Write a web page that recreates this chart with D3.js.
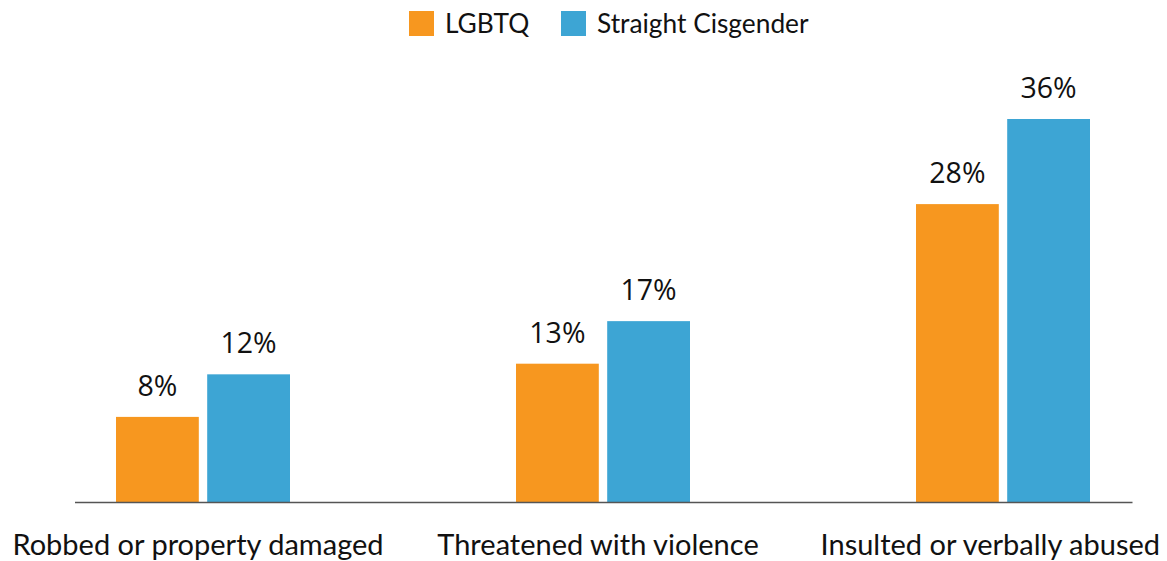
<!DOCTYPE html>
<html>
<head>
<meta charset="utf-8">
<script src="https://cdn.jsdelivr.net/npm/d3@7"></script>
<style>
  body { margin: 0; background: #fff; }
  svg { display: block; }
</style>
</head>
<body>
<script>
// Chart dimensions.
const width = 1167;
const height = 561;
const baseline = 502;
const topValue = 119;

// Data.
const categories = ["Robbed or property damaged", "Threatened with violence", "Insulted or verbally abused"];
const seriesNames = ["LGBTQ", "Straight Cisgender"];
const lgbtq = [8, 13, 28];
const straight = [12, 17, 36];
const colors = ["#F7971F", "#3DA5D4"];

const data = categories.map((c, i) => ({ category: c, values: [lgbtq[i], straight[i]] }));

const svg = d3.select("body").append("svg")
  .attr("width", width)
  .attr("height", height)
  .attr("viewBox", [0, 0, width, height]);

// Scales.
const x0 = d3.scaleBand(categories, [3, 1203]);
const x1 = d3.scaleBand(seriesNames, [113, 287]).paddingInner(0.092);
const y = d3.scaleLinear([0, 36], [baseline, topValue]);

// Bars.
const groups = svg.append("g")
  .selectAll("g")
  .data(data)
  .join("g")
  .attr("transform", d => `translate(${x0(d.category)},0)`);

groups.selectAll("rect")
  .data(d => d.values.map((v, i) => ({ key: seriesNames[i], value: v, i })))
  .join("rect")
  .attr("x", d => x1(d.key))
  .attr("width", x1.bandwidth())
  .attr("y", d => y(d.value))
  .attr("height", d => y(0) - y(d.value))
  .attr("fill", d => colors[d.i]);

// Value labels.
groups.selectAll("text")
  .data(d => d.values.map((v, i) => ({ key: seriesNames[i], value: v })))
  .join("text")
  .attr("x", d => x1(d.key) + x1.bandwidth() / 2)
  .attr("y", d => y(d.value) - 21)
  .attr("text-anchor", "middle")
  .attr("font-family", "'Open Sans', sans-serif")
  .attr("font-size", 28.5)
  .attr("fill", "#111")
  .text(d => d.value + "%");

// Baseline axis.
svg.append("g")
  .attr("transform", `translate(0,${baseline})`)
  .call(d3.axisBottom(d3.scaleLinear([0, 1], [74.5, 1132])).ticks(0).tickSizeOuter(0))
  .call(g => g.select(".domain").attr("stroke", "#555").attr("stroke-width", 1.5));

// Category labels (kept inside the canvas).
svg.append("g")
  .selectAll("text")
  .data(categories)
  .join("text")
  .attr("y", 555)
  .attr("font-family", "Lato, sans-serif")
  .attr("font-size", 29)
  .attr("fill", "#111")
  .attr("text-anchor", "middle")
  .text(d => d)
  .each(function (d) {
    const w = this.getComputedTextLength();
    let cx = x0(d) + x0.bandwidth() / 2 - 5;
    cx = Math.min(cx, width - 7 - w / 2);
    cx = Math.max(cx, 10 + w / 2);
    d3.select(this).attr("x", cx);
  });

// Legend.
const legend = svg.append("g").attr("font-family", "Lato, sans-serif").attr("font-size", 26.3);
const legendX = [409, 561];
seriesNames.forEach((name, i) => {
  legend.append("rect")
    .attr("x", legendX[i])
    .attr("y", 11)
    .attr("width", 25)
    .attr("height", 25)
    .attr("fill", colors[i]);
  legend.append("text")
    .attr("x", legendX[i] + 36)
    .attr("y", 33)
    .attr("fill", "#111")
    .text(name);
});
</script>
</body>
</html>
